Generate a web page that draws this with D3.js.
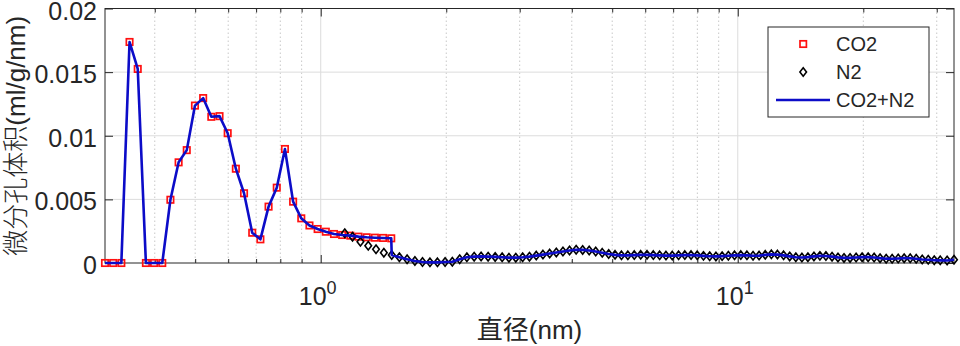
<!DOCTYPE html>
<html>
<head>
<meta charset="utf-8">
<script src="https://cdn.jsdelivr.net/npm/d3@7"></script>
<style>
body { margin: 0; background: #fff; }
svg text { font-family: "Liberation Sans", Arial, "Noto Sans CJK SC", sans-serif; fill: #262626; }
</style>
</head>
<body>
<div id="chart"></div>
<script>
// CO2 DFT points (diameter nm, dV/dD ml/g/nm)
var co2Diam = [0.3039, 0.3179, 0.3326, 0.3480, 0.3641, 0.3809, 0.3985, 0.4169, 0.4361, 0.4563,
  0.4773, 0.4994, 0.5225, 0.5466, 0.5719, 0.5983, 0.6259, 0.6548, 0.6851, 0.7167,
  0.7498, 0.7845, 0.8207, 0.8586, 0.8982, 0.9397, 0.9831, 1.0285, 1.0760, 1.1257,
  1.1777, 1.2321, 1.2890, 1.3486, 1.4109, 1.4760];
var co2Vol = [0, 0, 0, 0.01737, 0.01525, 0, 0, 0, 0.00497, 0.00791,
  0.00887, 0.01237, 0.01296, 0.01149, 0.01154, 0.01020, 0.00741, 0.00548, 0.00238, 0.00186,
  0.00443, 0.00592, 0.00896, 0.00482, 0.00351, 0.00295, 0.00267, 0.00246, 0.00228, 0.00220,
  0.00215, 0.00207, 0.00202, 0.00199, 0.00197, 0.00194];

// N2 DFT points
var n2Diam = [1.142, 1.192, 1.245, 1.300, 1.357, 1.417, 1.480, 1.544, 1.611, 1.682,
  1.754, 1.828, 1.905, 1.987, 2.068, 2.154, 2.241, 2.333, 2.424, 2.520,
  2.620, 2.723, 2.827, 2.936, 3.049, 3.166, 3.287, 3.411, 3.540, 3.672,
  3.809, 3.950, 4.097, 4.247, 4.403, 4.564, 4.732, 4.903, 5.079, 5.262,
  5.451, 5.648, 5.852, 6.060, 6.274, 6.497, 6.728, 6.966, 7.214, 7.466,
  7.727, 7.996, 8.275, 8.564, 8.864, 9.173, 9.493, 9.824, 10.17, 10.52,
  10.88, 11.25, 11.64, 12.04, 12.45, 12.88, 13.32, 13.78, 14.25, 14.73,
  15.23, 15.74, 16.27, 16.83, 17.39, 17.98, 18.59, 19.22, 19.87, 20.54,
  21.23, 21.94, 22.69, 23.45, 24.25, 25.06, 25.91, 26.78, 27.69, 28.62,
  29.59, 30.59, 31.77, 33.00];
var n2Vol = [0.00234, 0.00207, 0.00167, 0.00136, 0.00108, 0.00081, 0.00063, 0.00045, 0.00029, 0.00016,
  0.00008, 0.00005, 0.00005, 0.00008, 0.00010, 0.00030, 0.00045, 0.00050, 0.00052, 0.00050,
  0.00048, 0.00045, 0.00042, 0.00042, 0.00045, 0.00050, 0.00058, 0.00066, 0.00074, 0.00082,
  0.00090, 0.00098, 0.00104, 0.00103, 0.00098, 0.00090, 0.00080, 0.00071, 0.00064, 0.00060,
  0.00060, 0.00062, 0.00064, 0.00064, 0.00062, 0.00060, 0.00058, 0.00058, 0.00060, 0.00062,
  0.00062, 0.00060, 0.00056, 0.00053, 0.00052, 0.00054, 0.00057, 0.00060, 0.00062, 0.00060,
  0.00057, 0.00058, 0.00064, 0.00068, 0.00066, 0.00060, 0.00052, 0.00045, 0.00043, 0.00046,
  0.00052, 0.00056, 0.00055, 0.00050, 0.00044, 0.00040, 0.00040, 0.00043, 0.00046, 0.00046,
  0.00043, 0.00038, 0.00034, 0.00033, 0.00035, 0.00038, 0.00037, 0.00033, 0.00028, 0.00025,
  0.00022, 0.00021, 0.00020, 0.00025];

var yTicks = [0, 0.005, 0.01, 0.015, 0.02];
var yTickLabels = ["0", "0.005", "0.01", "0.015", "0.02"];
var xMajor = [1, 10];
var xMinor = [0.4, 0.5, 0.6, 0.7, 0.8, 0.9, 2, 3, 4, 5, 6, 7, 8, 9, 20, 30];
var seriesNames = ["CO2", "N2", "CO2+N2"];
var xTitle = "直径(nm)";
var yTitle = "微分孔体积(ml/g/nm)";

var margin = {top: 8.5, right: 6, bottom: 83, left: 105},
    width = 960 - margin.left - margin.right,
    height = 346 - margin.top - margin.bottom;

var axisColor = "#262626", red = "#ff1010", blue = "#0c0cc8";

var co2 = co2Diam.map(function(d, i) { return {d: d, v: co2Vol[i]}; });
var n2 = n2Diam.map(function(d, i) { return {d: d, v: n2Vol[i]}; });
// combined curve: CO2 below the switch diameter, N2 above it
var lastCo2 = co2Diam[co2Diam.length - 1];
var combined = co2.concat(n2.filter(function(p) { return p.d > lastCo2; }));

var x = d3.scaleLog()
    .domain([co2Diam[0], n2Diam[n2Diam.length - 1]])
    .range([0, width]);

var y = d3.scaleLinear()
    .domain([0, 0.02])
    .range([height, 0]);

var root = d3.select("#chart").append("svg")
    .attr("width", 960)
    .attr("height", 346);

var svg = root.append("g")
    .attr("transform", "translate(" + margin.left + "," + margin.top + ")");

svg.append("rect")
    .attr("width", width).attr("height", height)
    .attr("fill", "#fff");

// grid lines
svg.append("g").selectAll("line")
    .data(xMinor)
  .enter().append("line")
    .attr("x1", function(d) { return x(d); }).attr("x2", function(d) { return x(d); })
    .attr("y1", 0).attr("y2", height)
    .attr("stroke", "#c8c8c8").attr("stroke-width", 1)
    .attr("stroke-dasharray", "1.5,2.5");

svg.append("g").selectAll("line")
    .data(xMajor)
  .enter().append("line")
    .attr("x1", function(d) { return x(d); }).attr("x2", function(d) { return x(d); })
    .attr("y1", 0).attr("y2", height)
    .attr("stroke", "#dcdcdc").attr("stroke-width", 1);

svg.append("g").selectAll("line")
    .data(yTicks.slice(1, -1))
  .enter().append("line")
    .attr("x1", 0).attr("x2", width)
    .attr("y1", function(d) { return y(d); }).attr("y2", function(d) { return y(d); })
    .attr("stroke", "#dcdcdc").attr("stroke-width", 1);

// axes, ticks pointing inward on all four sides
function styleAxis(g) {
  g.select(".domain").remove();
  g.selectAll("line").attr("stroke", axisColor);
  g.selectAll("text").style("font-size", "25px").attr("fill", axisColor);
}

svg.append("g")
    .attr("transform", "translate(0," + height + ")")
    .call(d3.axisBottom(x).tickValues(xMajor).tickSize(-8).tickFormat(""))
    .call(styleAxis);
svg.append("g")
    .attr("transform", "translate(0," + height + ")")
    .call(d3.axisBottom(x).tickValues(xMinor).tickSize(-4).tickFormat(""))
    .call(styleAxis);
svg.append("g")
    .call(d3.axisTop(x).tickValues(xMajor).tickSize(-8).tickFormat(""))
    .call(styleAxis);
svg.append("g")
    .call(d3.axisTop(x).tickValues(xMinor).tickSize(-4).tickFormat(""))
    .call(styleAxis);

svg.append("g")
    .call(d3.axisLeft(y).tickValues(yTicks).tickSize(-8).tickPadding(8)
      .tickFormat(function(d, i) { return yTickLabels[i]; }))
    .call(styleAxis)
    .selectAll("text").attr("dy", "0.42em");
svg.append("g")
    .attr("transform", "translate(" + width + ",0)")
    .call(d3.axisRight(y).tickValues(yTicks).tickSize(-8).tickFormat(""))
    .call(styleAxis);

// 10^n labels
var xl = svg.append("g").selectAll("text")
    .data(xMajor)
  .enter().append("text")
    .attr("x", function(d) { return x(d) - 3; })
    .attr("y", height + 42)
    .attr("text-anchor", "middle")
    .style("font-size", "25px");
xl.append("tspan").text("10");
xl.append("tspan")
    .attr("dy", -11)
    .style("font-size", "18px")
    .text(function(d) { return Math.round(Math.log10(d)); });

svg.append("rect")
    .attr("width", width).attr("height", height)
    .attr("fill", "none")
    .attr("stroke", axisColor).attr("stroke-width", 1);

// CO2 markers
svg.append("g").selectAll("rect")
    .data(co2)
  .enter().append("rect")
    .attr("x", function(p) { return x(p.d) - 3.2; })
    .attr("y", function(p) { return y(p.v) - 3.2; })
    .attr("width", 6.4).attr("height", 6.4)
    .attr("fill", "none").attr("stroke", red).attr("stroke-width", 1.7);

// N2 markers
var diamond = function(cx, cy) {
  return "M" + cx + "," + (cy - 4.2) + "L" + (cx + 3.3) + "," + cy +
         "L" + cx + "," + (cy + 4.2) + "L" + (cx - 3.3) + "," + cy + "Z";
};
svg.append("g").selectAll("path")
    .data(n2)
  .enter().append("path")
    .attr("d", function(p) { return diamond(x(p.d), y(p.v)); })
    .attr("fill", "none").attr("stroke", "#000").attr("stroke-width", 1.6);

// combined line
var line = d3.line()
    .x(function(p) { return x(p.d); })
    .y(function(p) { return y(p.v); });

svg.append("path")
    .datum(combined)
    .attr("d", line)
    .attr("fill", "none")
    .attr("stroke", blue)
    .attr("stroke-width", 2.6)
    .attr("stroke-linejoin", "round");

// axis titles
svg.append("text")
    .attr("x", width / 2)
    .attr("y", height + 76)
    .attr("text-anchor", "middle")
    .style("font-size", "26px")
    .text(xTitle);

svg.append("text")
    .attr("transform", "translate(" + (-margin.left + 25) + "," + (height / 2) + ") rotate(-90)")
    .attr("text-anchor", "middle")
    .style("font-size", "26px")
    .style("font-weight", 300)
    .text(yTitle);

// legend
var legend = root.append("g").attr("transform", "translate(768,27)");
legend.append("rect")
    .attr("width", 161).attr("height", 90)
    .attr("fill", "#fff").attr("stroke", axisColor).attr("stroke-width", 1);

var rows = legend.selectAll(".row")
    .data(seriesNames)
  .enter().append("g")
    .attr("class", "row")
    .attr("transform", function(d, i) { return "translate(0," + (17 + i * 28) + ")"; });

rows.append("text")
    .attr("x", 68)
    .attr("dy", "0.36em")
    .style("font-size", "20px")
    .text(function(d) { return d; });

rows.filter(function(d, i) { return i === 0; }).append("rect")
    .attr("x", 32).attr("y", -3.2).attr("width", 6.4).attr("height", 6.4)
    .attr("fill", "none").attr("stroke", red).attr("stroke-width", 1.7);
rows.filter(function(d, i) { return i === 1; }).append("path")
    .attr("d", diamond(35.2, 0))
    .attr("fill", "none").attr("stroke", "#000").attr("stroke-width", 1.6);
rows.filter(function(d, i) { return i === 2; }).append("line")
    .attr("x1", 8).attr("x2", 62)
    .attr("stroke", blue).attr("stroke-width", 2.6);
</script>
</body>
</html>
